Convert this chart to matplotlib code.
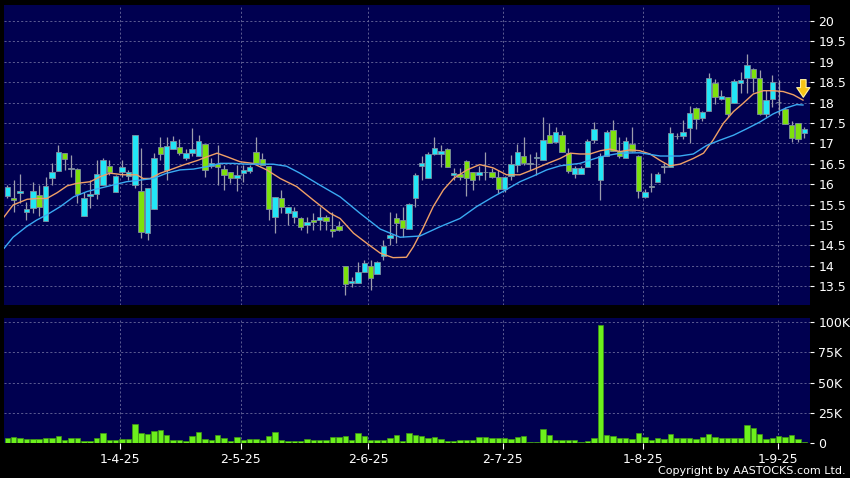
import numpy as np
import matplotlib
matplotlib.use("Agg")
import matplotlib.pyplot as plt
from matplotlib.ticker import FuncFormatter

# daily candles (bar index 0..125)
opens = [15.70, 15.65, 15.78, 15.31, 15.41, 15.74, 15.11, 16.14, 16.33, 16.77,
         16.38, 16.37, 15.22, 15.71, 15.76, 15.98, 16.45, 15.82, 16.31, 16.21,
         15.99, 15.83, 14.80, 15.38, 16.90, 16.35, 16.86, 16.90, 16.63, 16.76,
         16.68, 16.98, 16.45, 16.49, 16.37, 16.30, 16.14, 16.28, 16.33, 16.78,
         16.61, 16.45, 15.20, 15.67, 15.30, 15.20, 15.16, 14.99, 15.12, 15.12,
         15.20, 14.89, 14.98, 14.00, 13.59, 13.59, 13.86, 14.00, 13.80, 14.25,
         14.69, 15.18, 15.12, 14.89, 15.65, 16.45, 16.14, 16.74, 16.74, 16.86,
         16.23, 16.25, 16.58, 16.29, 16.23, 16.29, 16.31, 16.18, 15.87, 16.20,
         16.47, 16.69, 16.50, 16.63, 16.59, 17.21, 17.03, 17.21, 16.76, 16.24,
         16.24, 16.43, 17.08, 16.10, 16.68, 17.33, 16.82, 16.65, 16.98, 16.69,
         15.69, 15.94, 16.05, 16.43, 16.43, 17.18, 17.18, 17.37, 17.86, 17.61,
         17.79, 18.49, 18.08, 18.13, 18.00, 18.49, 18.59, 18.82, 18.59, 17.72,
         18.08, 18.01, 17.84, 17.45, 17.51, 17.25]
highs = [15.97, 16.10, 16.25, 15.57, 16.05, 15.98, 16.18, 16.51, 16.96, 16.77,
         16.72, 16.40, 15.82, 16.10, 16.59, 16.63, 16.59, 16.23, 16.59, 16.35,
         17.20, 16.88, 15.90, 16.76, 17.16, 17.16, 17.18, 17.10, 16.86, 17.37,
         17.21, 16.98, 16.63, 16.96, 16.47, 16.30, 16.47, 16.47, 16.47, 17.16,
         16.76, 16.45, 15.68, 15.86, 15.43, 15.45, 15.20, 15.20, 15.29, 15.45,
         15.25, 15.33, 15.10, 14.00, 13.73, 14.10, 14.14, 14.14, 14.12, 14.63,
         15.33, 15.29, 15.45, 15.53, 16.27, 16.68, 16.78, 17.16, 16.96, 16.88,
         16.39, 16.39, 16.60, 16.31, 16.45, 16.80, 16.39, 16.35, 16.20, 16.72,
         16.99, 17.16, 16.74, 16.80, 17.65, 17.49, 17.41, 17.31, 16.88, 16.45,
         16.45, 17.10, 17.53, 16.76, 17.33, 17.57, 17.16, 17.16, 17.41, 16.72,
         15.88, 16.27, 16.31, 16.51, 17.41, 17.25, 17.57, 17.91, 17.88, 17.80,
         18.72, 18.57, 18.30, 18.13, 18.57, 18.76, 19.19, 18.84, 18.80, 18.30,
         18.68, 18.55, 17.90, 17.55, 17.51, 17.40]
lows = [15.65, 15.33, 15.55, 15.12, 15.29, 15.22, 15.11, 15.98, 16.33, 16.35,
        16.18, 15.53, 15.22, 15.41, 15.64, 15.98, 16.23, 15.82, 16.18, 16.10,
        15.90, 14.67, 14.63, 15.38, 16.59, 16.10, 16.86, 16.72, 16.59, 16.68,
        16.68, 16.18, 16.39, 15.98, 15.86, 16.02, 15.84, 16.06, 16.27, 16.51,
        16.47, 15.12, 14.80, 15.29, 15.00, 15.04, 14.88, 14.80, 14.88, 14.88,
        14.88, 14.71, 14.86, 13.28, 13.49, 13.59, 13.86, 13.41, 13.80, 14.14,
        14.51, 14.55, 14.71, 14.89, 15.45, 16.10, 16.14, 16.72, 16.43, 16.43,
        16.10, 16.10, 15.71, 15.86, 16.10, 16.10, 16.15, 15.78, 15.80, 16.10,
        16.31, 16.47, 16.35, 16.23, 16.59, 17.00, 17.02, 16.80, 16.27, 16.14,
        16.24, 16.43, 17.02, 15.61, 16.68, 16.82, 16.63, 16.63, 16.80, 15.65,
        15.65, 15.82, 16.05, 16.27, 16.43, 17.10, 17.10, 17.00, 17.35, 17.55,
        17.79, 17.96, 18.06, 17.65, 18.00, 18.23, 18.23, 18.25, 17.70, 17.65,
        17.90, 17.70, 17.47, 17.04, 17.04, 17.13]
closes = [15.92, 15.61, 15.84, 15.38, 15.84, 15.43, 15.96, 16.31, 16.78, 16.61,
          16.38, 15.75, 15.65, 15.76, 16.24, 16.59, 16.31, 16.20, 16.41, 16.31,
          17.20, 14.82, 15.90, 16.63, 16.73, 16.94, 17.07, 16.76, 16.76, 16.86,
          17.07, 16.35, 16.51, 16.41, 16.23, 16.14, 16.23, 16.34, 16.41, 16.51,
          16.47, 15.38, 15.68, 15.43, 15.43, 15.34, 14.94, 15.08, 15.07, 15.20,
          15.11, 14.85, 14.88, 13.55, 13.63, 13.86, 14.08, 13.69, 14.09, 14.49,
          14.75, 15.04, 14.92, 15.51, 16.23, 16.53, 16.74, 16.88, 16.82, 16.43,
          16.27, 16.18, 16.14, 16.10, 16.29, 16.29, 16.17, 15.87, 16.18, 16.49,
          16.80, 16.51, 16.50, 16.67, 17.08, 17.00, 17.29, 16.80, 16.32, 16.39,
          16.40, 17.07, 17.35, 16.68, 17.29, 16.82, 16.68, 17.05, 16.82, 15.83,
          15.80, 15.94, 16.24, 16.43, 17.26, 17.18, 17.29, 17.75, 17.59, 17.77,
          18.59, 18.13, 18.15, 17.72, 18.54, 18.55, 18.92, 18.61, 17.72, 18.06,
          18.51, 18.01, 17.47, 17.12, 17.10, 17.35]
# volume in thousands
volume = [4.1, 4.7, 4.1, 2.8, 2.8, 2.8, 4.1, 4.1, 5.2, 2.5,
          3.6, 3.6, 1.4, 1.4, 3.6, 8.3, 2.2, 2.2, 2.8, 2.8,
          15.7, 8.3, 6.9, 9.7, 10.5, 6.3, 2.2, 2.2, 1.4, 5.8,
          8.8, 2.8, 2.2, 6.6, 4.1, 1.4, 5.0, 1.9, 2.8, 3.3,
          1.9, 5.2, 8.8, 2.5, 1.4, 1.4, 1.1, 3.3, 2.5, 1.9,
          1.9, 4.7, 5.0, 5.8, 2.5, 7.7, 5.5, 2.2, 2.2, 2.5,
          3.6, 6.3, 1.4, 7.7, 6.1, 5.2, 4.1, 4.7, 2.8, 1.4,
          1.4, 2.2, 2.2, 2.2, 5.0, 4.7, 3.6, 3.6, 3.6, 3.3,
          5.0, 5.2, 0.8, 0.8, 11.0, 6.3, 2.2, 2.2, 2.2, 1.9,
          0.8, 1.4, 3.6, 98.0, 6.3, 5.5, 4.1, 3.6, 2.8, 7.7,
          4.7, 2.2, 3.6, 2.8, 6.9, 4.1, 4.1, 4.1, 2.8, 4.7,
          7.5, 4.7, 3.6, 3.6, 4.1, 3.6, 14.3, 11.9, 7.5, 2.8,
          3.6, 5.8, 4.7, 6.1, 2.8, 0.3]

# moving averages as drawn (bar position, price)
ma_short_x = [-0.5, 0.9, 3.1, 4.7, 6.2, 7.8, 9.4, 10.9, 13.0, 14.5, 16.1, 18.2,
              20.3, 21.3, 22.4, 24.0, 25.5, 27.6, 29.8, 31.3, 32.9, 34.5, 36.5,
              38.5, 40.7, 42.8, 45.4, 48.0, 50.6, 52.2, 54.3, 56.4, 58.5, 60.5,
              62.6, 63.7, 65.2, 66.8, 68.4, 70.0, 72.1, 74.1, 76.2, 78.3, 80.4,
              82.5, 84.6, 86.7, 88.3, 89.8, 91.4, 93.0, 94.5, 96.1, 97.7, 99.2,
              100.8, 102.4, 103.9, 105.5, 107.6, 109.2, 110.7, 112.3, 113.9,
              115.4, 117.0, 118.6, 120.1, 121.7, 123.3, 124.8]
ma_short = [15.20, 15.49, 15.63, 15.65, 15.65, 15.79, 15.96, 16.02, 16.06, 16.18,
            16.27, 16.23, 16.23, 16.14, 16.14, 16.27, 16.35, 16.47, 16.58, 16.67,
            16.76, 16.67, 16.55, 16.51, 16.35, 16.14, 15.94, 15.61, 15.29, 15.16,
            14.80, 14.55, 14.31, 14.20, 14.21, 14.47, 14.92, 15.45, 15.86, 16.14,
            16.35, 16.48, 16.40, 16.23, 16.23, 16.36, 16.50, 16.63, 16.76, 16.74,
            16.74, 16.82, 16.86, 16.80, 16.84, 16.82, 16.74, 16.58, 16.45, 16.49,
            16.63, 16.76, 17.08, 17.49, 17.78, 17.98, 18.21, 18.29, 18.29, 18.27,
            18.19, 18.06]
ma_long_x = [-0.5, 0.9, 3.0, 4.6, 6.2, 8.3, 10.4, 12.5, 14.5, 16.6, 18.7, 20.8,
             22.9, 25.0, 27.1, 29.2, 31.3, 33.4, 35.5, 37.6, 39.6, 41.7, 43.8,
             45.9, 49.0, 52.2, 55.3, 58.5, 61.6, 64.7, 67.9, 71.0, 73.6, 76.2,
             78.3, 80.4, 82.5, 84.6, 86.7, 89.8, 93.0, 96.1, 99.2, 102.4, 105.5,
             107.6, 109.7, 111.8, 113.9, 116.0, 118.0, 120.1, 122.2, 123.8, 124.8]
ma_long = [14.43, 14.70, 14.96, 15.12, 15.25, 15.45, 15.69, 15.82, 15.90, 15.98,
           16.06, 16.10, 16.14, 16.27, 16.35, 16.37, 16.43, 16.51, 16.51, 16.49,
           16.49, 16.49, 16.44, 16.27, 15.98, 15.69, 15.29, 14.90, 14.70, 14.73,
           14.96, 15.16, 15.45, 15.69, 15.87, 16.06, 16.20, 16.35, 16.45, 16.51,
           16.67, 16.76, 16.77, 16.69, 16.69, 16.74, 16.95, 17.08, 17.20, 17.36,
           17.52, 17.72, 17.87, 17.95, 17.94]

tick_pos = [17.6, 36.6, 56.6, 77.7, 99.7, 120.9]
tick_labels = ['1-4-25', '2-5-25', '2-6-25', '2-7-25', '1-8-25', '1-9-25']
price_ticks = [13.5, 14, 14.5, 15, 15.5, 16, 16.5, 17, 17.5, 18, 18.5, 19, 19.5, 20]
vol_ticks = [0, 25, 50, 75, 100]

#%% figure
W, H = 850, 478
bg = '#000050'
grid_kw = dict(color='#6a6a9c', linestyle=(0, (2.5, 2.5)), linewidth=0.6)
up_c, down_c, flat_c = '#22e6f6', '#7de10c', '#a8a8b0'

fig = plt.figure(figsize=(W / 100, H / 100), dpi=100, facecolor='black')
ax = fig.add_axes([4 / W, 1 - 305 / H, 806 / W, 300 / H], facecolor=bg)
axv = fig.add_axes([4 / W, 1 - 443 / H, 806 / W, 125 / H], facecolor=bg, sharex=ax)

x = np.arange(len(opens))
o, h, l, c = map(np.array, (opens, highs, lows, closes))

ax.vlines(x, l, h, color='#9c9cac', linewidth=0.9, zorder=2)
cols = np.where(c > o, up_c, np.where(c < o, down_c, flat_c))
body_lo = np.minimum(o, c)
body_h = np.maximum(np.abs(c - o), 0.012)
ax.bar(x, body_h, bottom=body_lo, width=0.85, color=cols,
       edgecolor='#7f8fa0', linewidth=0.6, zorder=3)

ax.plot(ma_short_x, ma_short, color='#f0a066', linewidth=1.0, zorder=4)
ax.plot(ma_long_x, ma_long, color='#3aaaf2', linewidth=1.0, zorder=4)

ax.annotate('', xy=(124.85, 18.06), xytext=(124.85, 18.63),
            arrowprops=dict(arrowstyle='simple,head_width=0.95,head_length=0.7,tail_width=0.4',
                            fc='#f6c416', ec='#fff2a0', lw=0.8, mutation_scale=10),
            zorder=6)

ax.set_xlim(-0.52, 125.9)
ax.set_ylim(13.04, 20.39)
ax.set_yticks(price_ticks)
ax.yaxis.set_major_formatter(FuncFormatter(lambda v, p: '%g' % v))
ax.set_xticks(tick_pos)
ax.tick_params(axis='x', length=0, labelbottom=False)
ax.grid(True, **grid_kw)

axv.bar(x, volume, width=0.85, color='#6cf01c', edgecolor='#3f9a12',
        linewidth=0.5, zorder=3)
axv.set_ylim(-0.3, 103.7)
axv.set_yticks(vol_ticks)
axv.yaxis.set_major_formatter(FuncFormatter(lambda v, p: '0' if v == 0 else '%dK' % v))
axv.set_xticks(tick_pos)
axv.set_xticklabels(tick_labels)
axv.grid(True, **grid_kw)

for a in (ax, axv):
    a.set_axisbelow(True)
    a.yaxis.tick_right()
    for s in a.spines.values():
        s.set_visible(False)
    a.tick_params(axis='y', colors='white', length=3, width=0.8, pad=3, labelsize=9)
axv.tick_params(axis='x', colors='white', length=4, width=0.8, pad=3, labelsize=9)

fig.text(846 / W, 1 - 471 / H, 'Copyright by AASTOCKS.com Ltd.', ha='right', va='center',
         color='white', fontsize=8)

fig.savefig('out.png', dpi=100, facecolor='black')
